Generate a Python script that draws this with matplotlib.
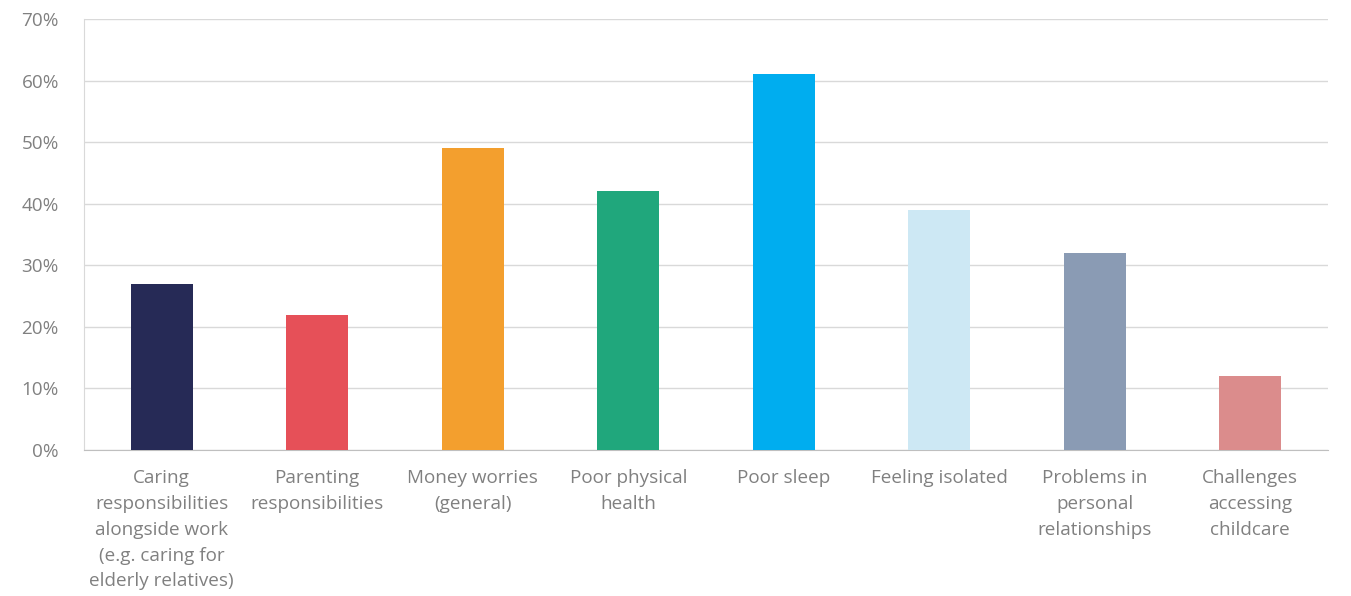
import matplotlib
matplotlib.use("Agg")
import matplotlib.pyplot as plt
from matplotlib.ticker import FuncFormatter

categories = [
    "Caring\nresponsibilities\nalongside work\n(e.g. caring for\nelderly relatives)",
    "Parenting\nresponsibilities",
    "Money worries\n(general)",
    "Poor physical\nhealth",
    "Poor sleep",
    "Feeling isolated",
    "Problems in\npersonal\nrelationships",
    "Challenges\naccessing\nchildcare",
]
values = [27, 22, 49, 42, 61, 39, 32, 12]
colors = ["#262A56", "#E65058", "#F39F2E", "#20A77C", "#00ADEF",
          "#CDE8F4", "#8A9BB4", "#DB8C8C"]
yticks = [0, 10, 20, 30, 40, 50, 60, 70]

plt.rcParams['font.family'] = ['Open Sans', 'DejaVu Sans']

fig = plt.figure(figsize=(13.51, 5.96), dpi=100)
ax = fig.add_axes([84/1351, 1-450/596, (1328-84)/1351, (450-19)/596])

x = list(range(len(categories)))
ax.bar(x, values, width=0.4, color=colors, zorder=3)
ax.set_xlim(-0.5, len(categories)-0.5)
ax.set_ylim(0, 70)
ax.set_yticks(yticks)
ax.yaxis.set_major_formatter(FuncFormatter(lambda v, p: f"{int(v)}%"))
ax.grid(axis='y', color='#D9D9D9', linewidth=1, zorder=0)
ax.set_xticks(x)
ax.set_xticklabels(categories, fontsize=13.6, color='#808080', linespacing=1.55)
ax.tick_params(axis='both', length=0, labelsize=13.6, colors='#808080')
ax.tick_params(axis='x', pad=14)
ax.tick_params(axis='y', pad=18)
for s in ['top', 'right']:
    ax.spines[s].set_visible(False)
ax.spines['left'].set_color('#D9D9D9')
ax.spines['bottom'].set_color('#BFBFBF')

fig.savefig("out.png", dpi=100)
